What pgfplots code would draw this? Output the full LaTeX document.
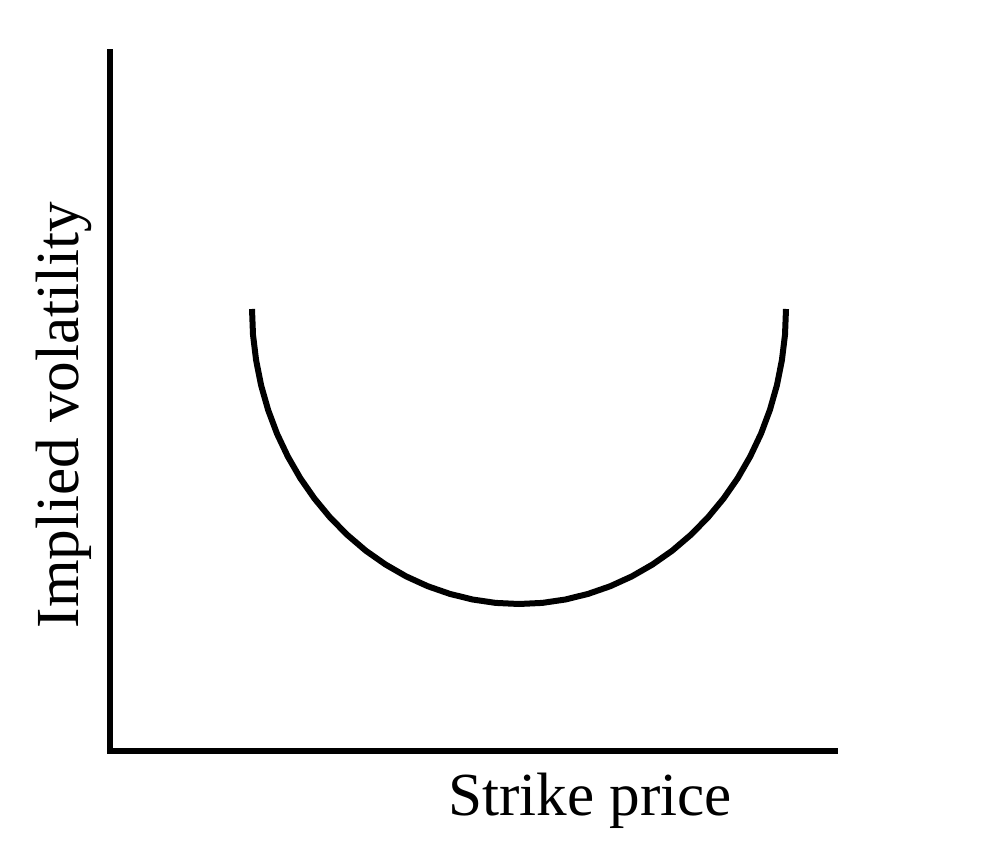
\documentclass[border=0pt]{standalone}
\usepackage{fontspec}
\setmainfont{Liberation Serif}
\usepackage{pgfplots}
\pgfplotsset{compat=1.18}
\begin{document}
\begin{tikzpicture}
\useasboundingbox (-55pt,-45pt) rectangle (447.5pt,375.5pt);
\begin{axis}[
  at={(0pt,0pt)}, anchor=origin,
  scale only axis, width=362.5pt, height=349.5pt,
  xmin=0, xmax=725, ymin=0, ymax=699,
  axis lines=left,
  axis line style={-, line width=3.25pt, line cap=rect},
  xtick=\empty, ytick=\empty,
  clip=false,
  label style={font=\fontsize{30.6pt}{36pt}\selectfont},
  xlabel={Strike price},
  ylabel={Implied volatility},
  xlabel style={at={(axis description cs:0.662,-0.0926)}, anchor=base},
  ylabel style={at={(axis description cs:-0.0441,0.4807)}, anchor=base, rotate=0},
]
\addplot[black, line width=3pt, line cap=butt, line join=round] coordinates {
(142,442) (143.0,416.3) (146.1,390.8) (151.1,365.7) (158.1,341.1) (167.0,317.3)
(177.8,294.5) (190.3,272.8) (204.5,252.4) (220.2,233.4) (237.4,216.0) (255.8,200.3)
(275.5,186.5) (296.2,174.6) (317.7,164.8) (339.9,157.1) (362.6,151.5) (385.7,148.1)
(409,147) (432.3,148.1) (455.4,151.5) (478.1,157.1) (500.3,164.8) (521.8,174.6)
(542.5,186.5) (562.2,200.3) (580.6,216.0) (597.8,233.4) (613.5,252.4) (627.7,272.8)
(640.2,294.5) (651.0,317.3) (659.9,341.1) (666.9,365.7) (671.9,390.8) (675.0,416.3)
(676,442)
};
\end{axis}
\end{tikzpicture}
\end{document}
